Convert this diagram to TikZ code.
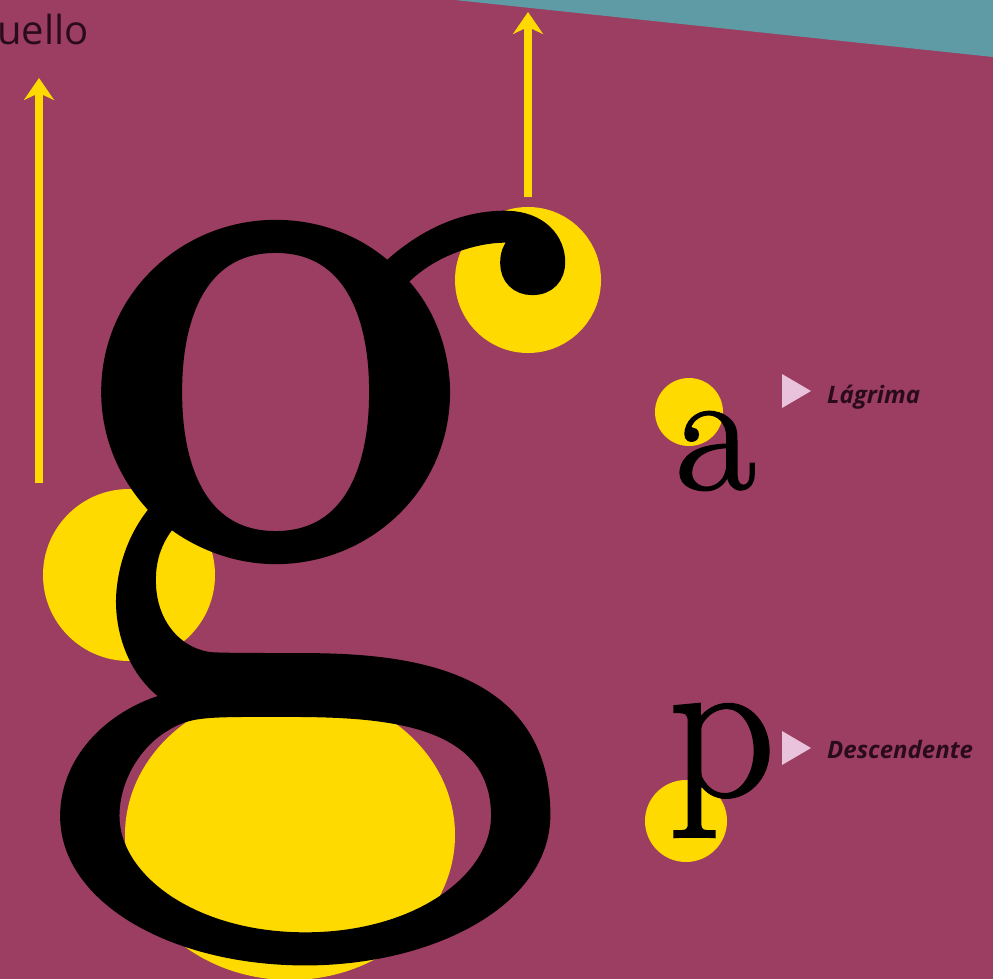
\documentclass[tikz,border=0pt]{standalone}
\usepackage{fontspec}
\newfontfamily\labelfont{Open Sans}
\newfontfamily\glyphfont[FakeBold=1.2]{Latin Modern Roman}
\usetikzlibrary{arrows.meta}
\definecolor{GBack}{HTML}{9B3E61}
\definecolor{GTeal}{HTML}{5E9BA4}
\definecolor{GYellow}{HTML}{FFDA00}
\definecolor{GPink}{HTML}{E9C3DC}
\definecolor{GText}{HTML}{2A0B1C}

\begin{document}
\begin{tikzpicture}[
    x=1pt, y=-1pt,
    spot/.style={fill=GYellow},
    pointer/.style={
      draw=GYellow,
      line width=8pt,
      -{Stealth[length=22pt,width=30pt,inset=7pt]}
    },
    glyph/.style={
      inner sep=0pt,
      anchor=base west,
      text=black
    },
    tag/.style={
      inner sep=0pt,
      anchor=base west,
      text=GText,
      font=\labelfont\bfseries\itshape\fontsize{24}{28}\selectfont
    },
    marker/.style={fill=GPink}
  ]

  % fondo
  \useasboundingbox (0,0) rectangle (993,979);
  \fill[GBack] (0,0) rectangle (993,979);
  \fill[GTeal] (455,0) -- (993,0) -- (993,57) -- cycle;

  % circulos
  \fill[spot] (528,280) circle[radius=73pt];
  \fill[spot] (129,575) circle[radius=86pt];
  \fill[spot] (290,835) ellipse[x radius=165pt, y radius=145pt];
  \fill[spot] (689,412) circle[radius=34pt];
  \fill[spot] (686,821) circle[radius=41pt];

  % letras
  \node[glyph, font=\glyphfont\fontsize{1140}{1140}\selectfont] (bigg) at (44,726) {g};
  \node[glyph, font=\glyphfont\fontsize{175}{175}\selectfont] (smalla) at (675,489) {a};
  \node[glyph, font=\glyphfont\fontsize{210}{210}\selectfont] (smallp) at (668,796) {p};

  % cuello
  \node[inner sep=0pt, anchor=base west, text=GText,
        font=\labelfont\fontsize{40}{44}\selectfont] (neck) at (-3,45) {uello};
  \coordinate (neckfoot) at (39,483);
  \coordinate (necktip) at (39,78);
  \draw[pointer] (neckfoot) -- (necktip);

  % oreja
  \coordinate (earfoot) at (528,197);
  \coordinate (eartip) at (528,12);
  \draw[pointer] (earfoot) -- (eartip);

  % etiquetas
  \fill[marker] (782,374) -- (811,391) -- (782,408) -- cycle;
  \node[tag] (tear) at (827,403) {Lágrima};
  \fill[marker] (782,731) -- (811,748) -- (782,765) -- cycle;
  \node[tag] (desc) at (827,758) {Descendente};

\end{tikzpicture}
\end{document}
